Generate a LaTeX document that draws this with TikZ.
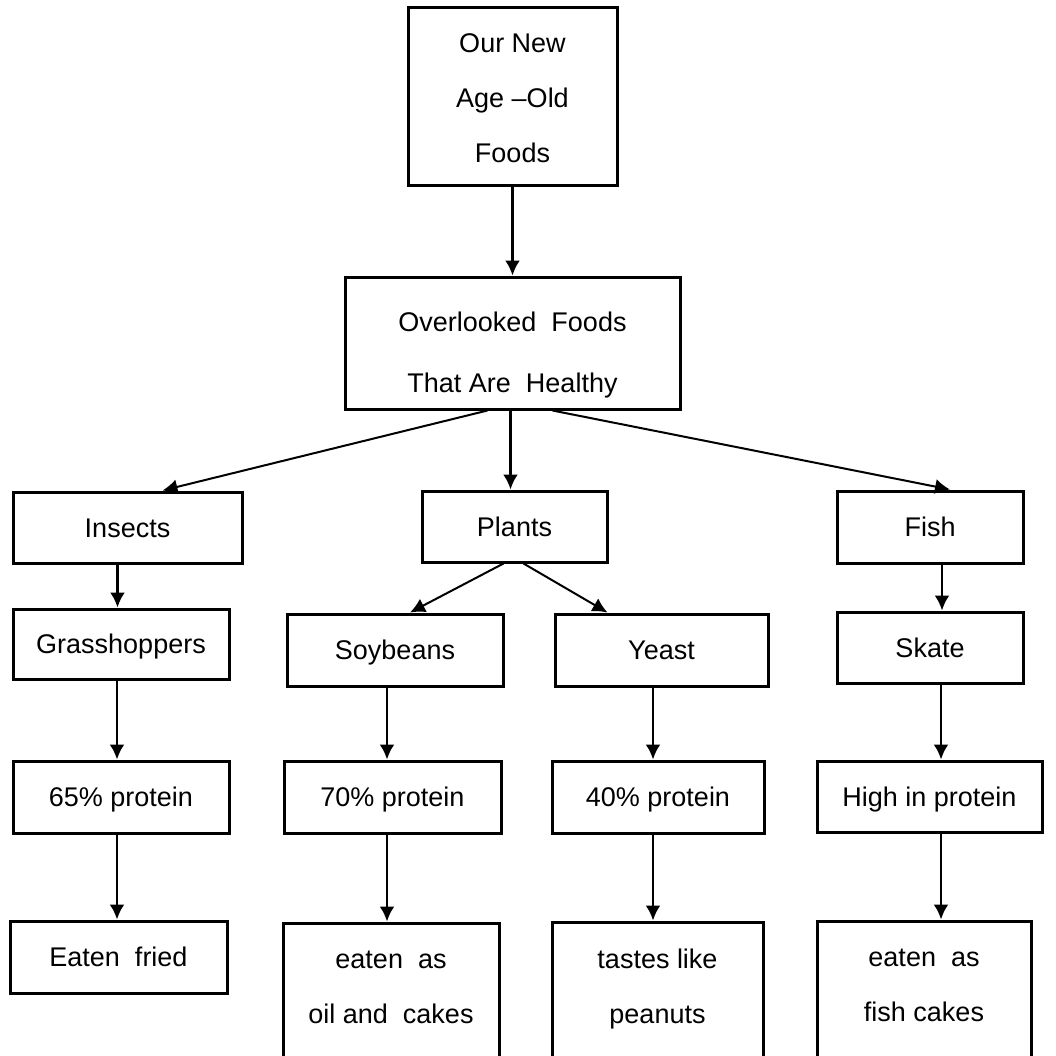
\documentclass[tikz,border=0pt]{standalone}
\usepackage{fontspec}
\setmainfont{Liberation Sans}
\usetikzlibrary{arrows.meta}

\tikzset{
  box/.style={draw, line width=3pt, inner sep=0pt, text height=19pt, text depth=0pt},
  tallbox/.style={draw, line width=3pt, inner sep=0pt, align=center},
  slant/.style={line width=2pt},
}

\begin{document}
\begin{tikzpicture}[->, >={Latex[length=15pt, width=15pt]}, line width=2.6pt, x=1pt, y=-1pt,
  nodes={font=\fontsize{27}{55}\selectfont}]

  \useasboundingbox (0,0) rectangle (1056,1055);

  \node (top) [tallbox, minimum width=209pt, minimum height=178pt] at (512.5,96) {\rule{0pt}{24pt}Our New\\Age –Old\\Foods};
  \node (over) [tallbox, minimum width=335pt, minimum height=132pt] at (512.5,343) {\rule{0pt}{44pt}Overlooked~~Foods\\[6pt]That Are~~Healthy};

  \node (insects) [box, minimum width=229pt, minimum height=71pt] at (127.5,527.5) {Insects};
  \node (plants) [box, minimum width=185pt, minimum height=71pt] at (514.5,526.5) {Plants};
  \node (fish) [box, minimum width=186pt, minimum height=72pt] at (930,527) {Fish};

  \node (grass) [box, minimum width=216pt, minimum height=70pt] at (121,644) {Grasshoppers};
  \node (soy) [box, minimum width=216pt, minimum height=72pt] at (395,650) {Soybeans};
  \node (yeast) [box, minimum width=213pt, minimum height=72pt] at (661.5,650) {Yeast};
  \node (skate) [box, minimum width=186pt, minimum height=71pt] at (930,647.5) {Skate};

  \node (p65) [box, minimum width=216pt, minimum height=72pt] at (121,797) {65\% protein};
  \node (p70) [box, minimum width=217pt, minimum height=72pt] at (392.5,797) {70\% protein};
  \node (p40) [box, minimum width=212pt, minimum height=72pt] at (658,797) {40\% protein};
  \node (high) [box, minimum width=225pt, minimum height=71pt] at (929.5,796.5) {High in protein};

  \node (fried) [box, minimum width=217pt, minimum height=72pt] at (118.5,957) {Eaten~~fried};
  \node (oil) [tallbox, minimum width=216pt, minimum height=200pt] at (391,1023) {eaten~~as\\oil and~~cakes\\\strut};
  \node (nuts) [tallbox, minimum width=211pt, minimum height=200pt] at (657.5,1022) {tastes like\\peanuts\\\strut};
  \node (cakes) [tallbox, minimum width=214pt, minimum height=200pt] at (924,1021) {eaten~~as\\fish cakes\\\strut};

  \path (top) edge (over);
  \path ([xshift=-25pt]over.south) edge [slant] ([xshift=35pt]insects.north);
  \path ([xshift=-2pt]over.south) edge ([xshift=-4pt]plants.north);
  \path ([xshift=40pt]over.south) edge [slant] ([xshift=20pt]fish.north);
  \path ([xshift=-11pt]plants.south) edge [slant] ([xshift=15pt]soy.north);
  \path ([xshift=9pt]plants.south) edge [slant] ([xshift=-54pt]yeast.north);
  \path ([xshift=-10pt]insects.south) edge ([xshift=-10pt]insects.south |- grass.north);
  \path ([xshift=-4pt]grass.south) edge ([xshift=-4pt]p65.north);
  \path ([xshift=-4pt]p65.south) edge ([xshift=-1.5pt]fried.north);
  \path ([xshift=-8pt]soy.south) edge ([xshift=-5.5pt]p70.north);
  \path ([xshift=-5.5pt]p70.south) edge ([xshift=-4pt]oil.north);
  \path ([xshift=-8.5pt]yeast.south) edge ([xshift=-5pt]p40.north);
  \path ([xshift=-5pt]p40.south) edge ([xshift=-4.5pt]nuts.north);
  \path ([xshift=12pt]fish.south) edge ([xshift=12pt]skate.north);
  \path ([xshift=11pt]skate.south) edge ([xshift=11.5pt]high.north);
  \path ([xshift=11.5pt]high.south) edge ([xshift=17pt]cakes.north);

\end{tikzpicture}
\end{document}
